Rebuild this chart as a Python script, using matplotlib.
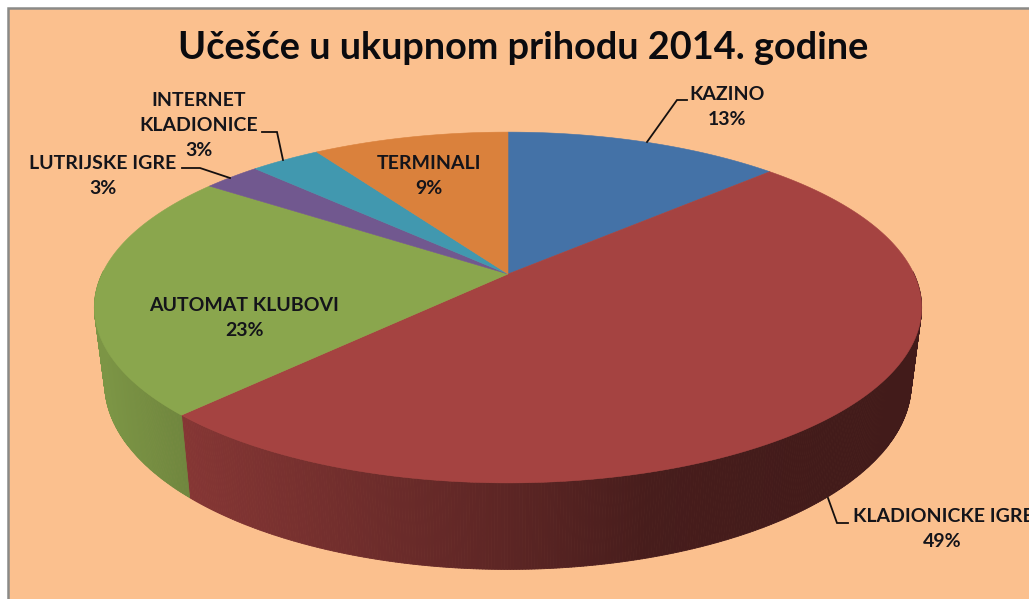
import numpy as np
import matplotlib
matplotlib.use("Agg")
import matplotlib.pyplot as plt
from matplotlib.patches import Polygon, Rectangle
from matplotlib.collections import PolyCollection

# --- data ---
categories = ["KAZINO", "KLADIONICKE IGRE", "AUTOMAT KLUBOVI", "LUTRIJSKE IGRE",
              "INTERNET\nKLADIONICE", "TERMINALI"]
values = [13.0, 49.2, 22.6, 2.7, 3.3, 9.2]
title = "Učešće u ukupnom prihodu 2014. godine"

# --- style ---
colors = ["#4472A7", "#A54341", "#8AA64D", "#71588F", "#4198AF", "#DA813C"]
bg = "#FBC08E"
plt.rcParams["font.family"] = ["Lato", "DejaVu Sans"]

CX, CY = 508, 274            # apex of the pie on screen
A, B, K = 406, 169, 0.191    # perspective projection of the unit circle
BASE_DY, BASE_SX, BASE_SY = 348, 0.975, 1.06


def project(theta):
    u, v = np.sin(theta), np.cos(theta)
    d = 1 + K * v
    return A * u / d, B * v / d


def top_pts(theta):
    X, Y = project(theta)
    return CX + X, CY - Y


def base_pts(theta):
    X, Y = project(theta)
    return CX + BASE_SX * X, BASE_DY - BASE_SY * Y


fig = plt.figure(figsize=(10.29, 5.99), dpi=100, facecolor="white")
ax = fig.add_axes([0, 0, 1, 1])
ax.set_xlim(0, 1029)
ax.set_ylim(599, 0)
ax.axis("off")

ax.add_patch(Rectangle((8, 8), 1030, 600, facecolor=bg, edgecolor="#8A8A88", linewidth=1.8, zorder=0))

edges = np.concatenate([[0], np.cumsum(values)]) / np.sum(values) * 2 * np.pi

# side wall, shaded by horizontal position
shade_x = [100, 190, 380, 508, 650, 830, 920]
shade_f = [0.90, 0.80, 0.66, 0.56, 0.43, 0.40, 0.40]
for i, color in enumerate(colors):
    th = np.linspace(edges[i], edges[i + 1], max(int((edges[i + 1] - edges[i]) * 160), 2))
    keep = np.cos(th) <= 0.02
    th = th[keep]
    if len(th) < 2:
        continue
    tx, ty = top_pts(th)
    bx, by = base_pts(th)
    rgb = np.array(matplotlib.colors.to_rgb(color))
    quads, cols = [], []
    for j in range(len(th) - 1):
        quads.append([(tx[j], ty[j]), (tx[j + 1], ty[j + 1]), (bx[j + 1], by[j + 1]), (bx[j], by[j])])
        f = np.interp((tx[j] + tx[j + 1]) / 2, shade_x, shade_f)
        cols.append(np.clip(rgb * f, 0, 1))
    ax.add_collection(PolyCollection(quads, facecolors=cols, edgecolors=cols, linewidths=0.6, zorder=2))

# top surface
for i, color in enumerate(colors):
    th = np.linspace(edges[i], edges[i + 1], 300)
    tx, ty = top_pts(th)
    pts = np.column_stack([np.r_[CX, tx], np.r_[CY, ty]])
    ax.add_patch(Polygon(pts, closed=True, facecolor=color, edgecolor=color, linewidth=0.4, zorder=3))

ax.text(523, 48, title, ha="center", va="center", fontsize=27.3, fontweight="bold", color="#0B0B0F", zorder=5)

# labels: centre x, first-line y, for each category
label_x = [727, None, 244, 103, 199, 429]
label_y = [94.5, 516.5, 305.5, 163.5, 100.5, 163.5]
LINE = 25
lab = dict(fontsize=14, fontweight="bold", color="#14141A", ha="center", va="center", zorder=5)
for i, name in enumerate(categories):
    pct = f"{round(values[i])}%"
    lines = name.split("\n") + [pct]
    for j, s in enumerate(lines):
        if label_x[i] is None:
            if j == 0:
                ax.text(853, label_y[i], s, **{**lab, "ha": "left"})
            else:
                ax.text(942, label_y[i] + j * LINE, s, **lab)
        else:
            ax.text(label_x[i], label_y[i] + j * LINE, s, **lab)

# leader lines
leaders = [
    [(647, 142), (677, 100), (687, 100)],
    [(828, 498), (837, 523), (848, 523)],
    [(230, 178), (200, 168), (182, 168)],
    [(283, 160), (277, 132), (262, 132)],
]
for ln in leaders:
    xs, ys = zip(*ln)
    ax.plot(xs, ys, color="#15100F", lw=1.3, zorder=4, solid_joinstyle="miter")

fig.savefig("out.png", dpi=100, facecolor="white")
